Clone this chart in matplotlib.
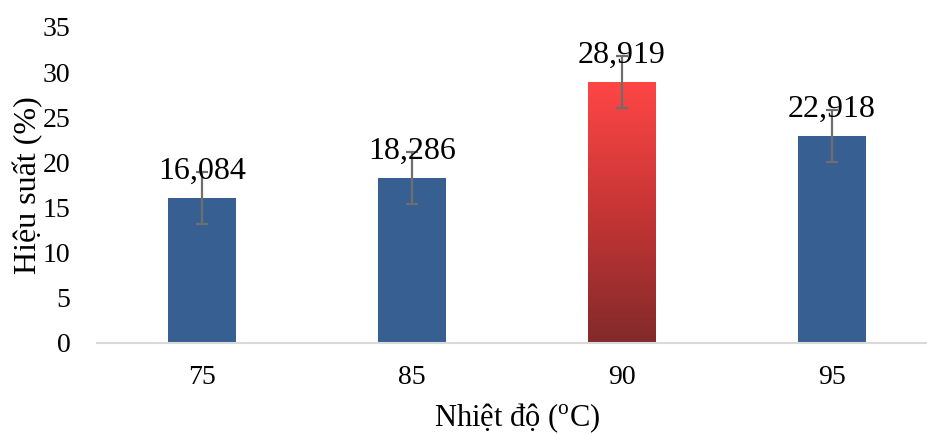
import numpy as np
import matplotlib
matplotlib.use("Agg")
import matplotlib.pyplot as plt
from matplotlib.colors import LinearSegmentedColormap

plt.rcParams["font.family"] = ["Liberation Serif", "DejaVu Serif"]
plt.rcParams["mathtext.fontset"] = "custom"
plt.rcParams["mathtext.rm"] = "Liberation Serif"

# data
temps = ["75", "85", "90", "95"]
yields = [16.084, 18.286, 28.919, 22.918]
errors = [2.9, 2.9, 2.9, 2.9]
value_labels = ["16,084", "18,286", "28,919", "22,918"]
highlight = 2  # the 90 oC bar gets the red gradient

BLUE = "#375F92"
ERR = "#6E6E6E"

fig = plt.figure(figsize=(9.27, 4.34), dpi=100)
ax = fig.add_axes([97 / 927, 91 / 434, 840 / 927, 316 / 434])

xs = np.arange(len(temps))
bars = ax.bar(xs, yields, width=0.32, color=BLUE, zorder=2)
ax.errorbar(xs, yields, yerr=errors, fmt="none", ecolor=ERR,
            elinewidth=1.6, capsize=4.5, capthick=1.6, zorder=4)

# gradient fill for the highlighted bar, clipped to the bar rectangle
hb = bars[highlight]
bx, by = hb.get_x(), hb.get_y()
bw, bh = hb.get_width(), hb.get_height()
hb.set_facecolor("none")
cmap = LinearSegmentedColormap.from_list("redgrad", ["#822A2A", "#C63535", "#FF4646"])
grad = np.linspace(0, 1, 256).reshape(-1, 1)
im = ax.imshow(grad, cmap=cmap, origin="lower", aspect="auto",
               extent=(bx, bx + bw, by, by + bh), zorder=2)
im.set_clip_path(hb)

for x, v, lab in zip(xs, yields, value_labels):
    ax.annotate(lab, xy=(x, v), xytext=(0, 14), textcoords="offset points",
                ha="center", va="baseline", fontsize=23, zorder=5)

ax.set_xlim(-0.5, 3.5)
ax.set_ylim(0, 35)
ax.set_yticks(np.arange(0, 36, 5))
ax.set_xticks(xs)
ax.set_xticklabels(temps)
ax.tick_params(axis="both", length=0, labelsize=20)
ax.tick_params(axis="x", pad=16)
ax.tick_params(axis="y", pad=19)

for s in ("top", "right", "left"):
    ax.spines[s].set_visible(False)
ax.spines["bottom"].set_color("#D9D9D9")
ax.spines["bottom"].set_linewidth(1.5)

ax.set_ylabel("Hiệu suất (%)", fontsize=23, labelpad=0)
ax.set_xlabel("Nhiệt độ ($^{\\mathrm{o}}$C)", fontsize=22, labelpad=8)

fig.savefig("out.png", dpi=100)
